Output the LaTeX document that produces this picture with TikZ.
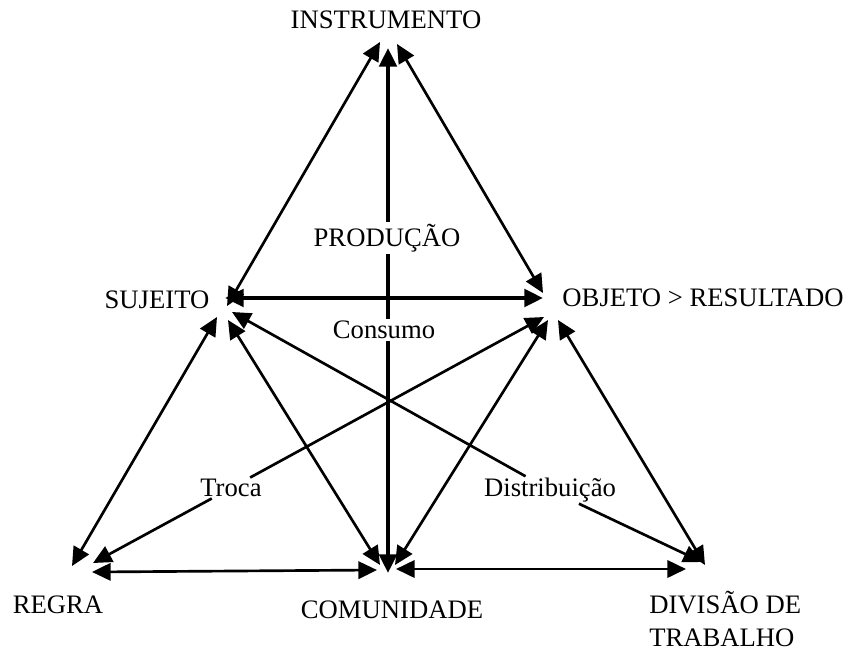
\documentclass[tikz,border=0pt]{standalone}
\usepackage{fontspec}
\setmainfont{Liberation Serif}
\usetikzlibrary{arrows.meta}

\tikzset{
  lbl/.style={inner sep=1pt, font=\fontsize{20}{23}\selectfont},
  link/.style={line width=2pt, {Triangle[length=14pt,width=13pt]}-{Triangle[length=14pt,width=13pt]}},
  axis/.style={line width=3pt, {Triangle[length=14pt,width=13pt]}-{Triangle[length=14pt,width=13pt]}},
  tohead/.style={line width=2pt, -{Triangle[length=14pt,width=13pt]}},
}

\begin{document}
\begin{tikzpicture}[x=0.75pt,y=-0.75pt]
\useasboundingbox (0,0) rectangle (852,653);

% labels
\node[lbl] (instr) at (386,20) {INSTRUMENTO};
\node[lbl] (prod) at (387,238) {PRODUÇÃO};
\node[lbl] (cons) at (384,330) {Consumo};
\node[lbl] (sujeito) at (157,300) {SUJEITO};
\node[lbl] (objeto) at (703,298) {OBJETO > RESULTADO};
\node[lbl] (troca) at (231,488) {Troca};
\node[lbl] (distr) at (550,490) {Distribuição};
\node[lbl] (regra) at (58,605) {REGRA};
\node[lbl] (comun) at (392,610) {COMUNIDADE};
\node[lbl, inner sep=0pt, align=left, anchor=west, font=\fontsize{20}{25}\selectfont] (divis) at (649,619) {DIVISÃO DE\\TRABALHO};

% arrow ends at the corners
\coordinate (inst-l) at (380,42);
\coordinate (inst-c) at (388,48);
\coordinate (inst-r) at (397,44);
\coordinate (suj-t) at (227,306);
\coordinate (suj-h) at (225,298);
\coordinate (suj-r) at (217,317);
\coordinate (suj-c) at (228,320);
\coordinate (suj-d) at (232,312);
\coordinate (obj-t) at (543,293);
\coordinate (obj-h) at (543,298);
\coordinate (obj-r) at (544,317);
\coordinate (obj-c) at (548,320);
\coordinate (obj-d) at (558,320);
\coordinate (reg-s) at (72,566);
\coordinate (reg-o) at (93,563);
\coordinate (reg-c) at (92,572);
\coordinate (com-s) at (380,565);
\coordinate (com-v) at (388,573);
\coordinate (com-o) at (395,565);
\coordinate (com-r) at (377,570);
\coordinate (com-d) at (396,569);
\coordinate (div-c) at (686,569);
\coordinate (div-s) at (702,562);
\coordinate (div-o) at (705,565);

% triangle
\draw[link] (inst-l) -- (suj-t);
\draw[link] (inst-r) -- (obj-t);
\draw[axis] (suj-h) -- (obj-h);
\draw[link] (suj-r) -- (reg-s);
\draw[link] (obj-d) -- (div-o);
\draw[link] (reg-c) -- (com-r);
\draw[link] (com-d) -- (div-c);
\draw[link] (suj-c) -- (com-s);
\draw[link] (obj-c) -- (com-o);

% centre line
\draw[line width=3pt, -{Triangle[length=14pt,width=13pt]}] (inst-c |- prod.north) -- (inst-c);
\draw[line width=3pt] (inst-c |- prod.south) -- (inst-c |- cons.north);
\draw[line width=3pt, -{Triangle[length=14pt,width=13pt]}] (inst-c |- cons.south) -- (com-v);

% crossing lines
\draw[tohead] (troca) -- (obj-r);
\draw[tohead] (troca) -- (reg-o);
\draw[tohead] (distr) -- (suj-d);
\draw[tohead] (distr) -- (div-s);
\end{tikzpicture}
\end{document}
